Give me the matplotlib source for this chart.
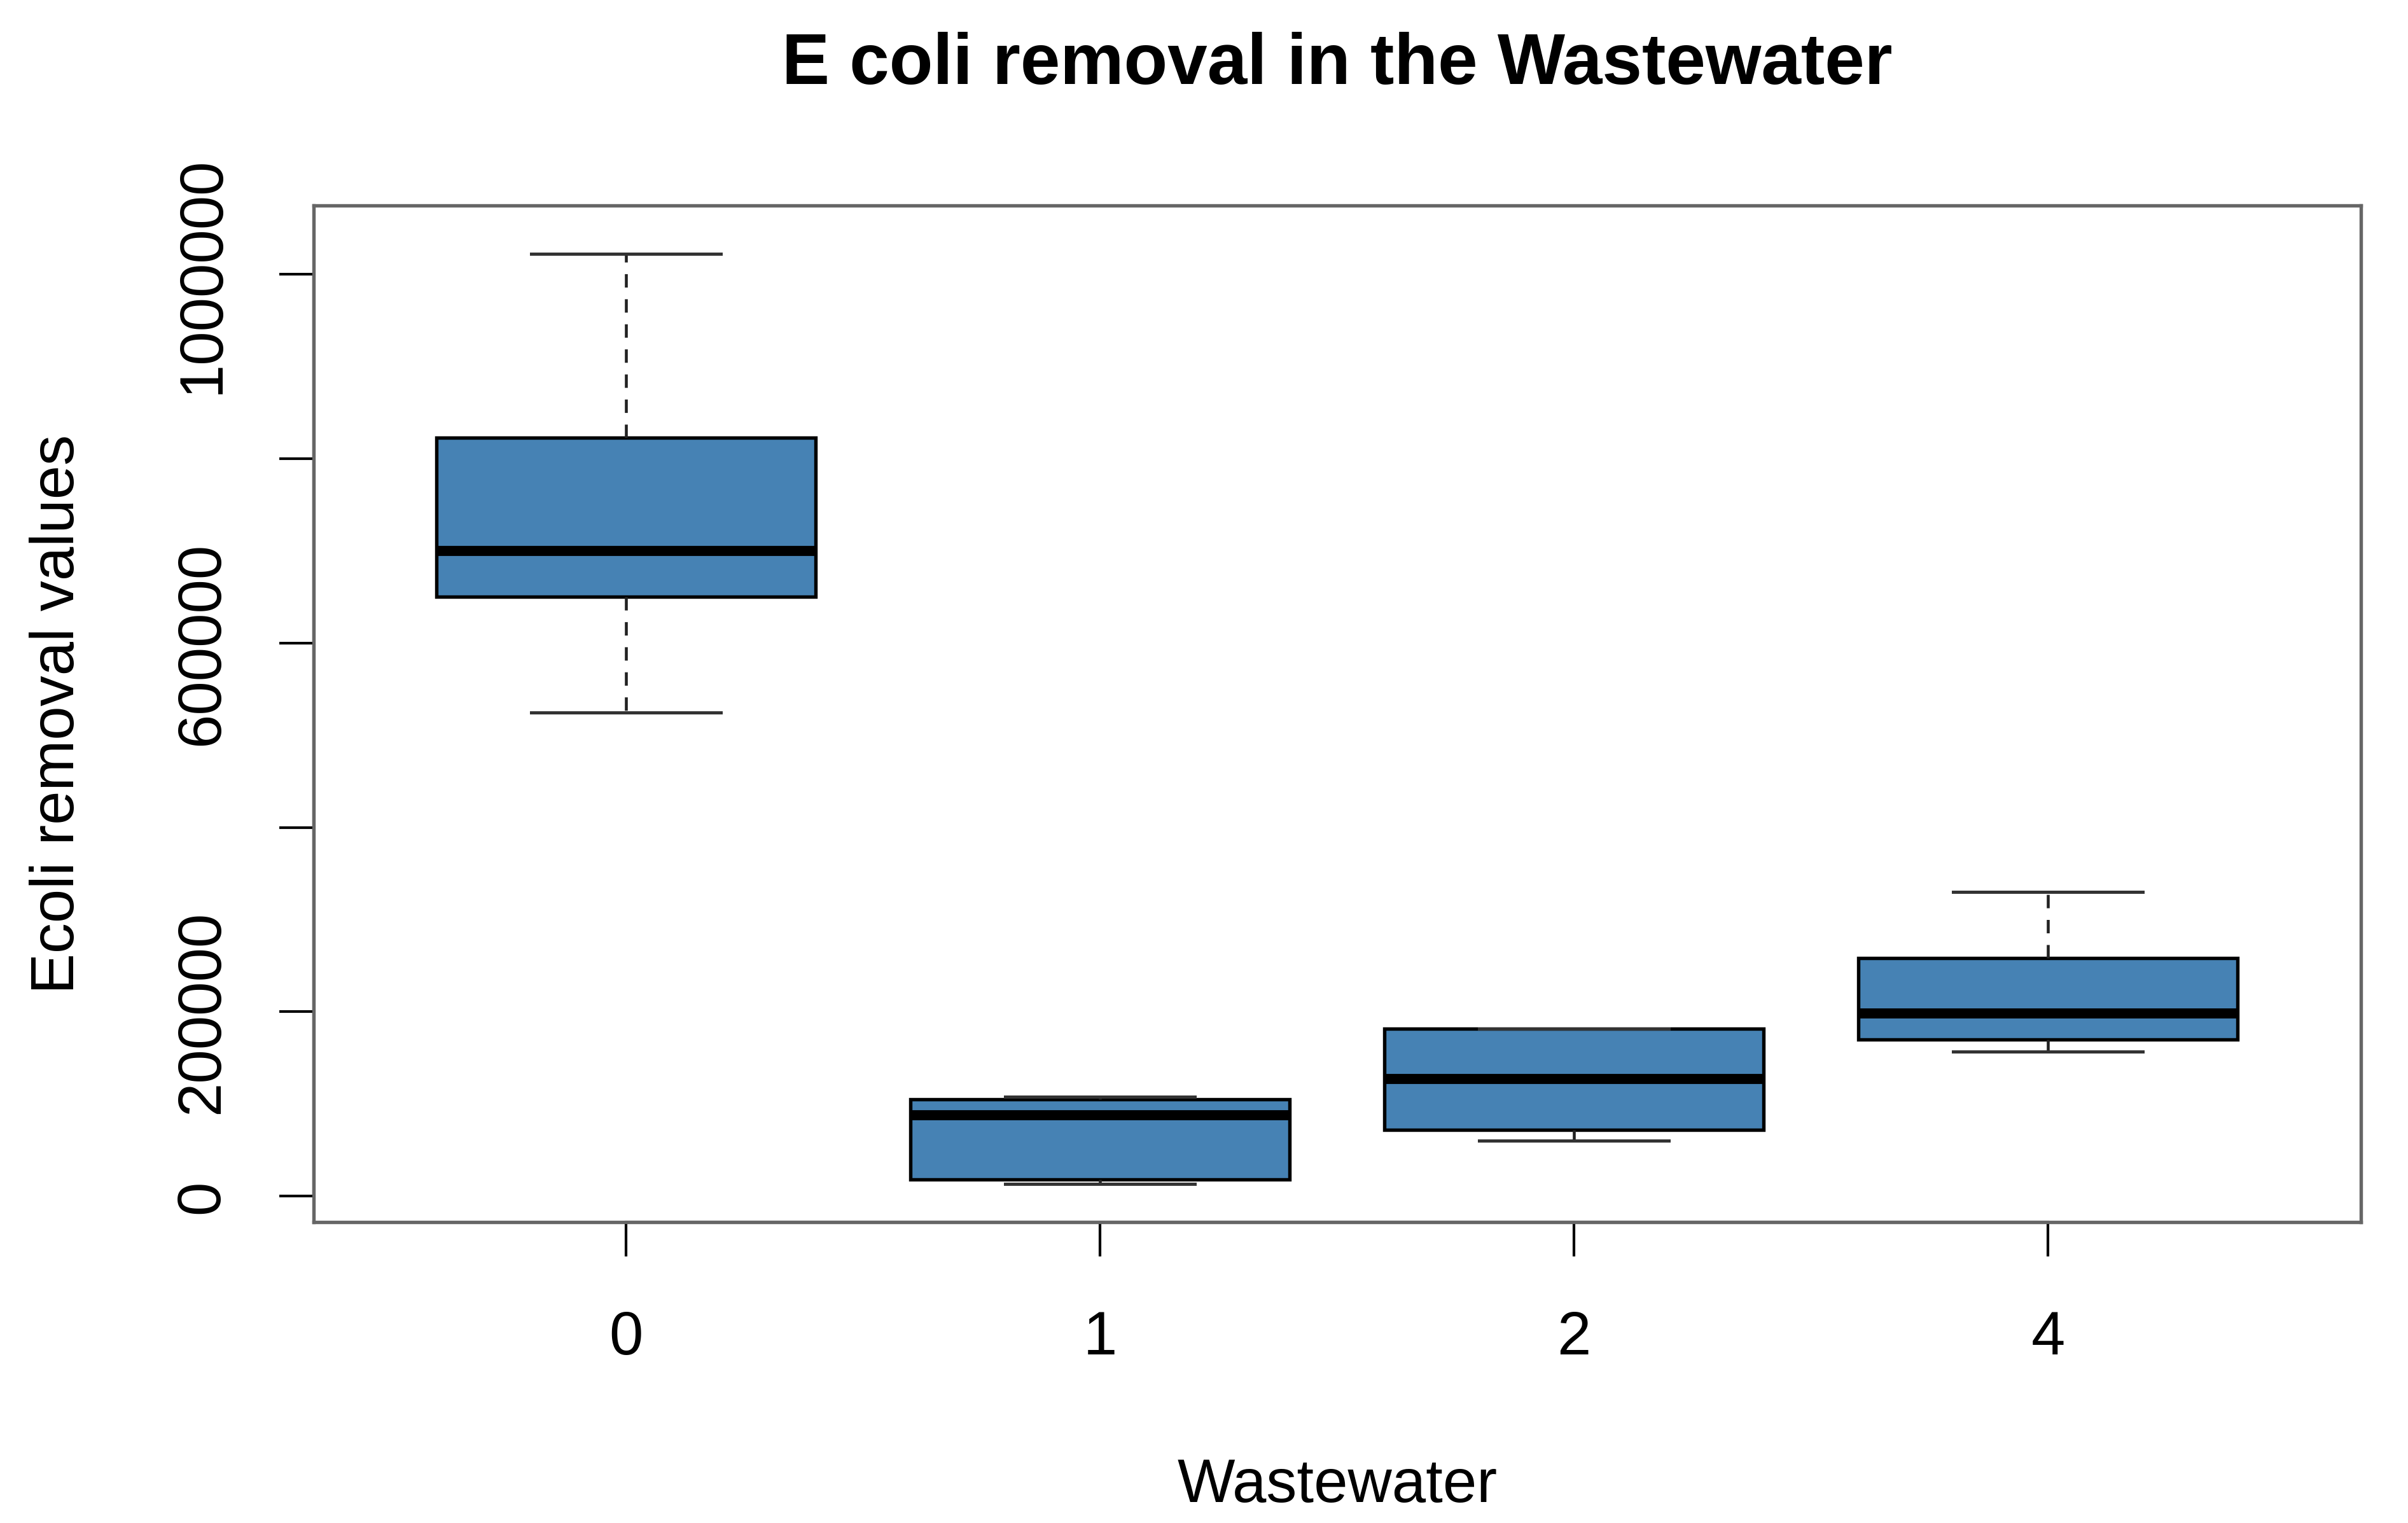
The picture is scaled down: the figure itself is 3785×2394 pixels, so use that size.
import matplotlib.pyplot as plt

plt.rcParams['font.family'] = ['Liberation Sans', 'DejaVu Sans']

groups = ["0", "1", "2", "4"]
whislo = [525000, 13000, 60000, 157000]
q1 = [650000, 18000, 72000, 170000]
med = [700000, 88000, 127000, 198000]
q3 = [823000, 105000, 182000, 258000]
whishi = [1022000, 108000, 182000, 330000]

yticks = [0, 200000, 400000, 600000, 800000, 1000000]
ylabels = ["0", "200000", "", "600000", "", "1000000"]

stats = []
for i in range(len(groups)):
    stats.append(dict(label=groups[i], whislo=whislo[i], q1=q1[i], med=med[i],
                      q3=q3[i], whishi=whishi[i], fliers=[]))

fig = plt.figure(figsize=(12.62, 7.983), dpi=300)
ax = fig.add_axes([0.1301, 0.1976, 0.8501, 0.6673])

pos = list(range(1, len(groups) + 1))
ax.bxp(stats, positions=pos, widths=0.8, capwidths=0.4, patch_artist=True,
       showfliers=False,
       boxprops=dict(facecolor="#4682B4", edgecolor="black", linewidth=1.3),
       medianprops=dict(color="black", linewidth=3.8, solid_capstyle="butt"),
       whiskerprops=dict(color="#222222", linewidth=1.1, linestyle=(0, (4.6, 4))),
       capprops=dict(color="#333333", linewidth=1.2))

ax.set_xlim(0.34, 4.66)
ax.set_ylim(-28000, 1075000)

for s in ax.spines.values():
    s.set_color("#666666")
    s.set_linewidth(1.3)

# R style axis lines spanning the ticks
ax.plot([1, 4], [-28000, -28000], color="black", lw=1.0, clip_on=False)
ax.plot([0.34, 0.34], [0, 1000000], color="black", lw=1.0, clip_on=False)

ax.set_xticks(pos)
ax.set_xticklabels(groups)
ax.set_yticks(yticks)
ax.set_yticklabels(ylabels, rotation=90, va="center")
ax.tick_params(axis="both", length=13, width=1.0, color="black", labelsize=23)
ax.tick_params(axis="x", pad=20)
ax.tick_params(axis="y", pad=18)

ax.set_xlabel("Wastewater", fontsize=23, labelpad=34)
ax.set_ylabel("Ecoli removal values", fontsize=23, labelpad=33)
ax.set_title("E coli removal in the Wastewater", fontsize=27, fontweight="bold", pad=46)

fig.savefig("out.png", dpi=300)
